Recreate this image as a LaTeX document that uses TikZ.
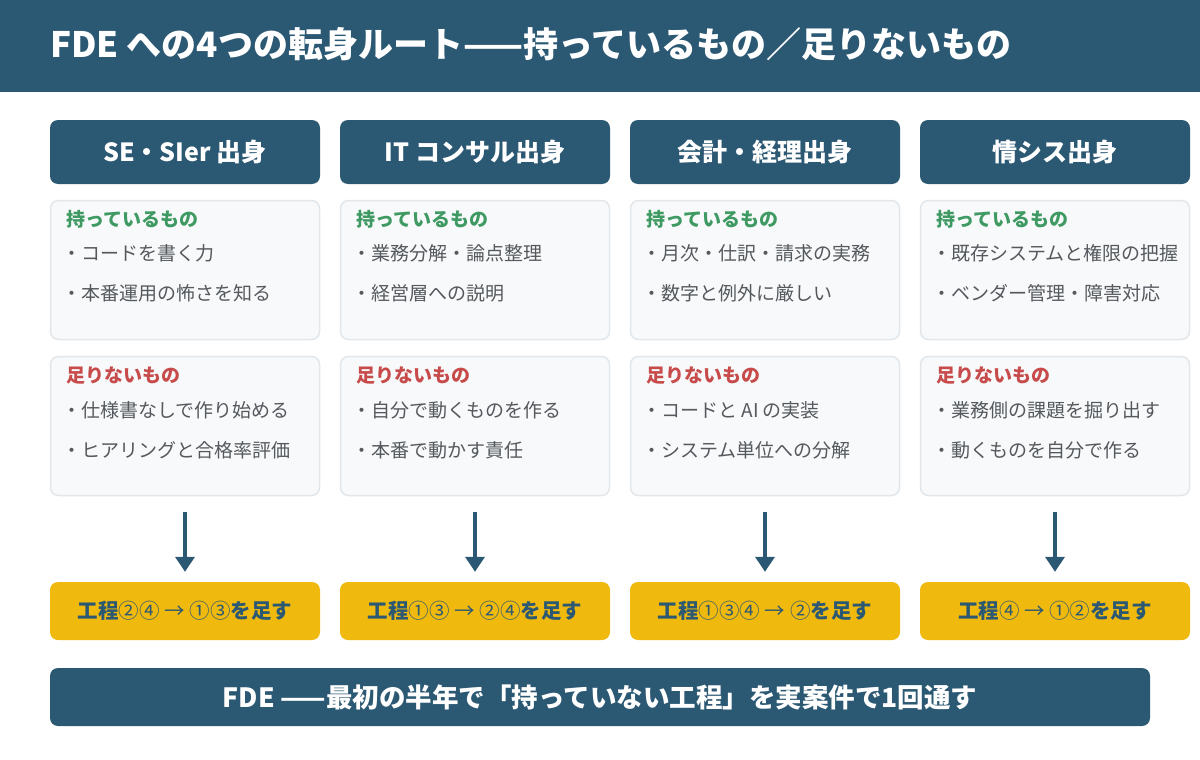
\documentclass[tikz,border=0pt]{standalone}
\usepackage{fontspec}
\setmainfont{Noto Sans CJK JP}
\usetikzlibrary{arrows.meta}
\definecolor{navy}{HTML}{2B5873}
\definecolor{cardfill}{HTML}{F7F9FA}
\definecolor{cardline}{HTML}{E1E7EB}
\definecolor{havegreen}{HTML}{3E9A62}
\definecolor{lackred}{HTML}{C84B4B}
\definecolor{itemgray}{HTML}{55595D}
\definecolor{gold}{HTML}{F0B90D}
\newcommand{\thin}[1]{{\mdseries #1}}
\begin{document}
\begin{tikzpicture}[x=1pt,y=-1pt]
        \tikzstyle{head}=[fill=navy,rounded corners=8pt,minimum width=270pt,minimum height=64pt,inner sep=0pt,text=white,font=\fontsize{25}{30}\selectfont\bfseries]
        \tikzstyle{card}=[draw=cardline,fill=cardfill,line width=1.5pt,rounded corners=8pt,minimum width=269pt,minimum height=139pt,inner sep=0pt]
        \tikzstyle{tag}=[anchor=west,inner sep=0pt,font=\fontsize{19}{23}\selectfont\bfseries]
        \tikzstyle{item}=[anchor=west,inner sep=0pt,text=itemgray,font=\fontsize{19}{23}\selectfont]
        \tikzstyle{result}=[fill=gold,rounded corners=8pt,minimum width=270pt,minimum height=58pt,inner sep=0pt,text=navy,font=\fontsize{20.5}{24}\selectfont\bfseries]
        \tikzstyle{flow}=[draw=navy,line width=3.5pt,-{Triangle[width=19pt,length=15pt]},shorten <=16pt,shorten >=10pt]
        \useasboundingbox (0,0) rectangle (1200,760);
        \fill[white] (0,0) rectangle (1200,760);
        \fill[navy] (0,0) rectangle (1200,92);
        \node[anchor=west,inner sep=0pt,text=white,font=\fontsize{35}{40}\selectfont\bfseries] (title) at (50,44) {FDE への4つの転身ルート——持っているもの／足りないもの};
        \foreach \i/\role/\hA/\hB/\lA/\lB/\res in {
          1/SE・SIer 出身/コードを書く力/本番運用の怖さを知る/仕様書なしで作り始める/ヒアリングと合格率評価/工程\thin{②④ → ①③}を足す,
          2/IT コンサル出身/業務分解・論点整理/経営層への説明/自分で動くものを作る/本番で動かす責任/工程\thin{①③ → ②④}を足す,
          3/会計・経理出身/月次・仕訳・請求の実務/数字と例外に厳しい/コードと AI の実装/システム単位への分解/工程\thin{①③④ → ②}を足す,
          4/情シス出身/既存システムと権限の把握/ベンダー管理・障害対応/業務側の課題を掘り出す/動くものを自分で作る/工程\thin{④ → ①②}を足す}{
          \pgfmathsetmacro\cx{185+(\i-1)*290}
          \pgfmathsetmacro\lx{66+(\i-1)*290}
          \node[head] (head\i) at (\cx,152) {\role};
          \node[card] (have\i) at (\cx,270) {};
          \node[card] (lack\i) at (\cx,426) {};
          \node[tag,text=havegreen] (haveT\i) at (\lx,219) {持っているもの};
          \node[item] (haveA\i) at (\lx-4,253) {・\hA};
          \node[item] (haveB\i) at (\lx-4,293) {・\hB};
          \node[tag,text=lackred] (lackT\i) at (\lx,375) {足りないもの};
          \node[item] (lackA\i) at (\lx-4,410) {・\lA};
          \node[item] (lackB\i) at (\lx-4,450) {・\lB};
          \node[result] (res\i) at (\cx,611) {\res};
          \draw[flow] (lack\i) -- (res\i);
        }
        \node[fill=navy,rounded corners=8pt,minimum width=1100pt,minimum height=58pt,inner sep=0pt,text=white,font=\fontsize{26.5}{30}\selectfont\bfseries] (goal) at (600,697) {FDE ——最初の半年で「持っていない工程」を実案件で1回通す};
      \end{tikzpicture}
\end{document}
